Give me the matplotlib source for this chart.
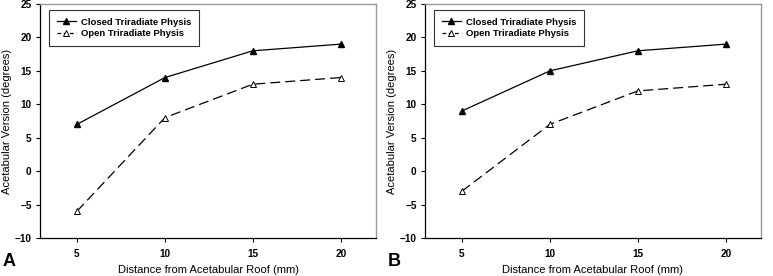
import matplotlib.pyplot as plt
from matplotlib.lines import Line2D

plt.rcParams["font.family"] = ["Liberation Sans", "DejaVu Sans"]

distance = [5, 10, 15, 20]
closed_a = [7, 14, 18, 19]
open_a = [-6, 8, 13, 14]
closed_b = [9, 15, 18, 19]
open_b = [-3, 7, 12, 13]
y_ticks = [-10, -5, 0, 5, 10, 15, 20, 25]

panels = [("A", closed_a, open_a), ("B", closed_b, open_b)]

fig = plt.figure(figsize=(7.73, 2.76), dpi=100)
W, H = 773, 276
lefts = [40, 425]

for left, (letter, closed, opn) in zip(lefts, panels):
    ax = fig.add_axes([left / W, 1 - 238 / H, 336 / W, 234 / H])
    ax.plot(distance, closed, color="black", lw=0.9, marker="^", ms=5,
            mfc="black", mec="black", label="Closed Triradiate Physis")
    ax.plot(distance, opn, color="black", lw=0.9, ls=(0, (8, 4)),
            marker="^", ms=5, mfc="white", mec="black", mew=0.7,
            label="Open Triradiate Physis")
    ax.set_xlim(2.9, 22)
    ax.set_ylim(-10, 25)
    ax.set_xticks(distance)
    ax.set_yticks(y_ticks)
    ax.tick_params(direction="out", length=3, width=0.8, labelsize=7.2,
                   pad=3)
    ax.tick_params(axis="x", pad=5)
    for lab in ax.get_xticklabels() + ax.get_yticklabels():
        lab.set_fontweight("bold")
    for side in ("top", "right"):
        ax.spines[side].set_color("#999999")
        ax.spines[side].set_linewidth(1.0)
    for side in ("left", "bottom"):
        ax.spines[side].set_color("black")
        ax.spines[side].set_linewidth(0.9)
    ax.set_ylabel("Acetabular Version (degrees)", fontsize=8, labelpad=2)
    ax.set_xlabel("Distance from Acetabular Roof (mm)", fontsize=8,
                  labelpad=4)
    handles = [
        Line2D([], [], color="black", lw=0.9, marker="^", ms=5, mfc="black"),
        Line2D([], [], color="black", lw=0.9, ls=(0, (3, 2)), marker="^",
               ms=5, mfc="white", mew=0.7),
    ]
    leg = ax.legend(handles, ["Closed Triradiate Physis",
                              "Open Triradiate Physis"],
                    loc="upper left", bbox_to_anchor=(0.027, 0.974),
                    borderaxespad=0,
                    prop={"weight": "bold", "size": 6.8}, fancybox=False,
                    framealpha=1, edgecolor="#333333", handlelength=2.0,
                    borderpad=0.8, labelspacing=0.3, handletextpad=0.6)
    leg.get_frame().set_linewidth(0.8)
    fig.text((left - 37) / W, 1 - 262 / H, letter, fontsize=13,
             fontweight="bold", va="center", ha="left")

fig.savefig("out.png", dpi=100, facecolor="white")
